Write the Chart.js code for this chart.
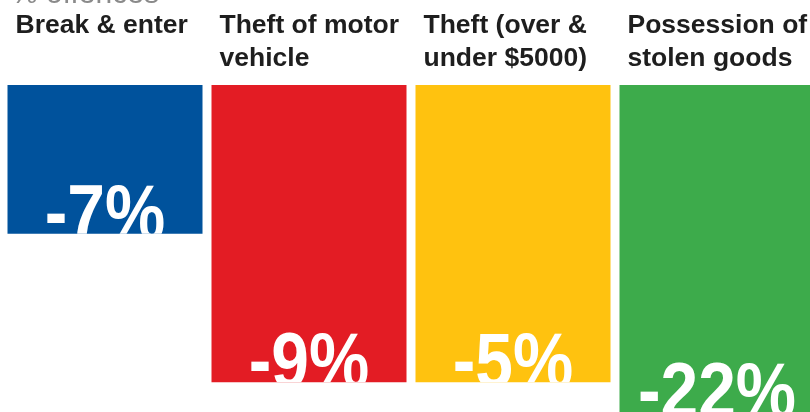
<!DOCTYPE html>
<html>
<head>
<meta charset="utf-8">
<script src="https://cdn.jsdelivr.net/npm/chart.js@4/dist/chart.umd.min.js"></script>
<style>
  html, body { margin: 0; padding: 0; background: #fff; overflow: hidden; }
  #chart { display: block; }
</style>
</head>
<body>
<canvas id="chart" width="819" height="412"></canvas>
<script>
// Change in offences by type. The drawn bars in the source graphic are not
// to scale with the percentages, so their depth is kept separately.
const axisTitle = '% offences';
const categories = [
  ['Break & enter'],
  ['Theft of motor', 'vehicle'],
  ['Theft (over &', 'under $5000)'],
  ['Possession of', 'stolen goods'],
];
const changePct = [-7, -9, -5, -22];
const barDepth = [-1, -2, -2, -2.2];
const barColors = ['#00529c', '#e31c24', '#ffc20f', '#3dab4b'];

const labelPlugin = {
  id: 'offenceLabels',
  afterDatasetsDraw(chart) {
    const { ctx, chartArea } = chart;
    const bars = chart.getDatasetMeta(0).data;

    ctx.save();
    ctx.fillStyle = '#8a8a8a';
    ctx.font = '30px "Liberation Sans", Arial, sans-serif';
    ctx.textAlign = 'left';
    ctx.textBaseline = 'alphabetic';
    ctx.fillText(axisTitle, 11, 3);

    ctx.fillStyle = '#1e1e1e';
    ctx.font = 'bold 26.5px "Liberation Sans", Arial, sans-serif';
    bars.forEach((bar, i) => {
      const left = bar.x - bar.width / 2;
      categories[i].forEach((line, j) => {
        ctx.fillText(line, left + 8, 33 + j * 33);
      });
    });

    // big white percentage, sitting on the bar's bottom edge and cut by it
    bars.forEach((bar, i) => {
      const left = bar.x - bar.width / 2;
      const bottom = Math.min(bar.y, chartArea.bottom);
      ctx.save();
      ctx.beginPath();
      ctx.rect(left, bar.base, bar.width, bottom - bar.base);
      ctx.clip();
      ctx.translate(bar.x, bottom + 5);
      ctx.scale(0.88, 1);
      ctx.fillStyle = '#ffffff';
      ctx.font = 'bold 77px "Liberation Sans", Arial, sans-serif';
      ctx.textAlign = 'center';
      ctx.fillText(`${changePct[i]}%`, 0, 0);
      ctx.restore();
    });
    ctx.restore();
  },
};

new Chart(document.getElementById('chart').getContext('2d'), {
  type: 'bar',
  data: {
    labels: categories.map((c) => c.join(' ')),
    datasets: [{
      data: barDepth,
      backgroundColor: barColors,
      borderWidth: 0,
      categoryPercentage: 195 / 204,
      barPercentage: 1,
    }],
  },
  options: {
    responsive: false,
    animation: false,
    layout: { padding: { left: 3, top: 85, right: 0, bottom: 0 } },
    scales: {
      x: { display: false },
      y: { display: false, min: -2.2, max: 0 },
    },
    plugins: {
      legend: { display: false },
      tooltip: { enabled: false },
    },
  },
  plugins: [labelPlugin],
});
</script>
</body>
</html>
